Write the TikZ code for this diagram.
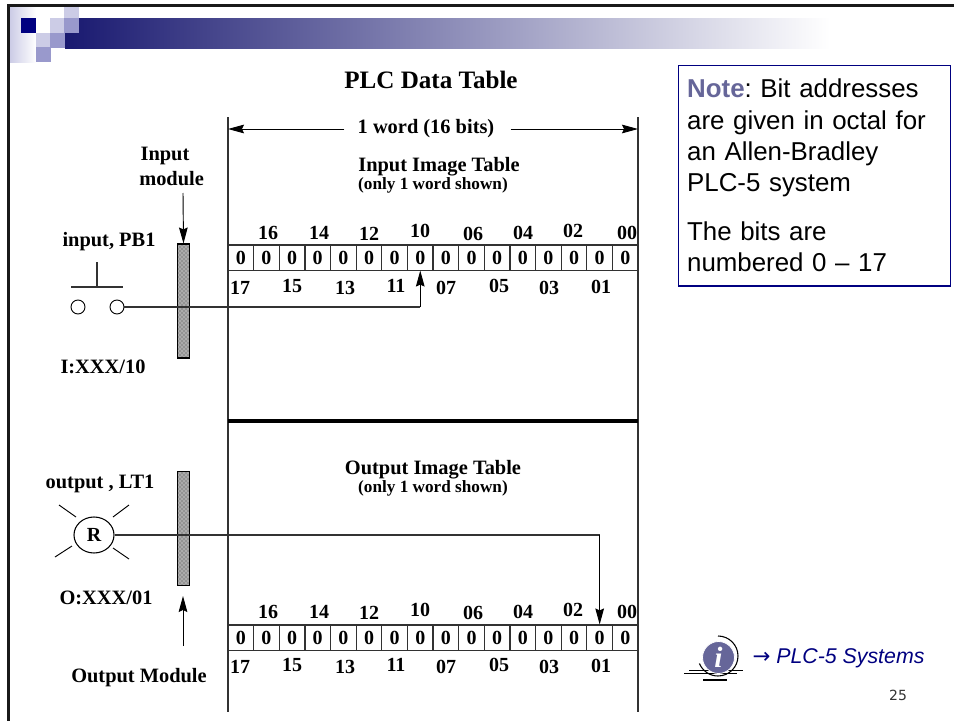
\documentclass[tikz,border=0pt]{standalone}
\usepackage{fontspec}
\setmainfont{Liberation Serif}
\setsansfont{Liberation Sans}
\newfontfamily\pagefont{DejaVu Sans}
\usepackage{xcolor}
\usetikzlibrary{positioning, arrows.meta, patterns, shapes.geometric}
\definecolor{plcNavy}{RGB}{ 0, 0,128}
\definecolor{plcBar}{RGB}{ 25, 25,112}
\definecolor{plcMid}{RGB}{153,153,204}
\definecolor{plcPale}{RGB}{204,204,230}
\definecolor{plcNote}{RGB}{102,102,153}
\definecolor{plcLine}{RGB}{ 50, 50, 50}

\begin{document}
\begin{tikzpicture}[
    x=0.75pt, y=-0.75pt,
    bit/.style={draw=plcLine, line width=0.8pt, minimum width=19.3pt, minimum height=18.8pt,
                inner sep=0pt, font=\fontsize{15}{16}\selectfont\bfseries},
    lbl/.style={font=\fontsize{15}{16}\selectfont\bfseries, inner sep=0pt},
    head/.style={font=\fontsize{15.3}{18.7}\selectfont\bfseries, inner sep=0pt},
    small/.style={font=\fontsize{12.9}{14}\selectfont\bfseries, inner sep=0pt},
    modbar/.style={draw=black, line width=0.8pt, preaction={fill=gray!85},
                   pattern=crosshatch dots, pattern color=white,
                   minimum width=9.5pt, minimum height=85.5pt, inner sep=0pt},
    wire/.style={draw=plcLine, line width=0.9pt},
    tip/.style={-{Stealth[length=12pt, width=6.5pt, inset=1.5pt]}, black, line width=0.7pt}
  ]
  \useasboundingbox (0,0) rectangle (954,721);

  % slide header
  \fill[left color=plcPale, right color=white] (10,7) rectangle (36,62);
  \fill[left color=plcBar, right color=white] (65,18) rectangle (830,48);
  \fill[white] (36,7) rectangle (65,18);
  \fill[plcPale] (64,7) rectangle (79,18);
  \fill[plcNavy] (21,18) rectangle (36,33);
  \fill[white] (36,18) rectangle (50,33);
  \fill[plcPale] (50,18) rectangle (64,33);
  \fill[plcMid] (64,18) rectangle (79,33);
  \fill[plcPale] (36,33) rectangle (50,47);
  \fill[plcMid] (50,33) rectangle (65,48);
  \fill[plcMid] (36,47) rectangle (51,62);
  \draw[line width=2pt, black!90] (8.5,721) -- (8.5,5.5) -- (954,5.5);

  % table frame
  \coordinate (leftTop) at (228,117);
  \coordinate (leftEnd) at (228,712);
  \coordinate (rightTop) at (638,117);
  \coordinate (rightEnd) at (638,712);
  \coordinate (midL) at (228,421);
  \coordinate (midR) at (638,421);
  \draw[wire] (leftTop) -- (leftEnd);
  \draw[wire] (rightTop) -- (rightEnd);
  \draw[line width=3.6pt, black] (midL) -- (midR);

  \node[font=\fontsize{18.8}{20}\selectfont\bfseries, inner sep=0pt] (title) at (431,80) {PLC Data Table};
  \node[head] (word) at (426,128.5) {1 word (16 bits)};
  \draw[tip] (word.west) ++(-13,0.5) coordinate (wordA) (wordA) -- (leftTop |- wordA);
  \draw[tip] (word.east) ++(16,0.5) coordinate (wordB) (wordB) -- (rightTop |- wordB);

  \node[head] (inTable) at (439,166.5) {Input Image Table};
  \node[small] (inNote) at (433,185) {(only 1 word shown)};
  \node[head] (outTable) at (433,469.5) {Output Image Table};
  \node[small] (outNote) at (433,488) {(only 1 word shown)};

  % bit cells, two rows
  \foreach \c in {0,...,15} {
    \node[bit] (in\c) at (240.85+\c*25.63, 257.5) {0};
    \node[bit] (out\c) at (240.85+\c*25.63, 637.5) {0};
  }

  % bit numbers
  \foreach \v/\x/\y in {16/268/233, 14/319/233, 12/369/234, 10/420/231,
                        06/473/234, 04/523/233, 02/573/231, 00/627/233,
                        17/240/288, 15/292/286, 13/345/288, 11/396/286,
                        07/446/288, 05/499/286, 03/549/288, 01/601/287} {
    \node[lbl] (inNum\v) at (\x,\y) {\v};
    \node[lbl] (outNum\v) at (\x,\y+379) {\v};
  }

  % input side
  \node[modbar] (inMod) at (183.5,301) {};
  \node[head, align=left, anchor=west] (inModLbl) at (139,166.5) {\hspace*{1pt}Input\\module};
  \draw[tip] (183,193) coordinate (inArrow) -- (inMod.north);
  \node[head] (pbLbl) at (109,242) {input, PB1};
  \node[circle, draw=black, line width=0.7pt, minimum size=10.5pt, inner sep=0pt] (pbL) at (78,307) {};
  \node[circle, draw=black, line width=0.7pt, minimum size=10.5pt, inner sep=0pt] (pbR) at (117,307) {};
  \draw[wire] (97,262) -- (97,287) (71,287) -- (123,287);
  \node[head] (inAddr) at (103,367) {I:XXX/10};

  % output side
  \node[modbar] (outMod) at (183.5,528.5) {};
  \node[head] (lampLbl) at (100,484) {output , LT1};
  \node[ellipse, draw=black, line width=0.8pt, minimum width=30pt, minimum height=27pt,
        inner sep=0pt, font=\fontsize{15}{16}\selectfont\bfseries] (lamp) at (94,535) {R};
  \draw[black, line width=0.7pt] (59,505) -- (76,517) (129,505) -- (113,517)
        (72,546) -- (55,557) (113,548) -- (129,559);
  \node[head] (outAddr) at (106,598) {O:XXX/01};
  \node[head] (outModLbl) at (139,678) {Output Module};
  \draw[tip] (183,646) coordinate (outArrow) -- (183,596);

  % wires run behind the cells
  \draw[wire] (pbR.east) -- (pbR.east -| in7.south);
  \draw[tip] (pbR.east -| in7.south) -- (in7.south);
  \draw[wire] (lamp.east) -- (lamp.east -| out14.north);
  \draw[tip] (lamp.east -| out14.north) -- (out14.north);

  % note box
  \node[draw=plcNavy, line width=1pt, anchor=north west, minimum width=204pt, minimum height=165.5pt,
        text width=190.5pt, align=left, inner sep=0pt, inner xsep=6.5pt,
        font=\sffamily\fontsize{19.4}{23.5}\selectfont] (note) at (677.5,64.5)
    {\frenchspacing\textcolor{plcNote}{\bfseries Note}: Bit addresses\\are given in octal for\\an Allen-Bradley\\PLC-5 system\\[13pt]The bits are\\numbered 0 -- 17};

  % info icon and link
  \draw[black, line width=0.7pt] (689,670) -- (743,670) (684,673) -- (737,673);
  \draw[black, line width=1.3pt] (703,680) -- (727,680);
  \draw[black, line width=0.8pt] (718,636) arc[start angle=-90, end angle=158, radius=20];
  \node[circle, fill=plcNote, draw=white, line width=0.6pt, minimum size=24pt, inner sep=0pt, text=white,
        font=\fontsize{22}{22}\selectfont\bfseries\itshape] (info) at (718.5,657.5) {i};
  \node[right=13pt of info, yshift=-0.5pt, inner sep=0pt, text=plcNavy,
        font=\sffamily\fontsize{16}{18}\selectfont\itshape] (link) {{\pagefont\upshape →} PLC-5 Systems};
  \node[inner sep=0pt, text=plcLine, font=\pagefont\fontsize{10.5}{12}\selectfont] (page) at (898,695) {25};
\end{tikzpicture}
\end{document}
